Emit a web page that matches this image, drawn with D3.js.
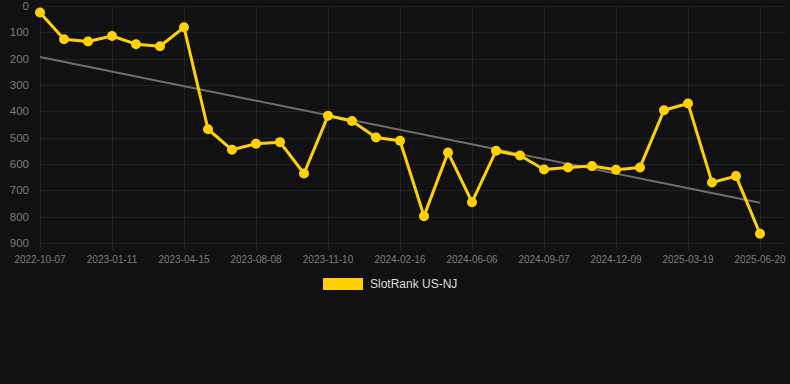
<!DOCTYPE html>
<html><head><meta charset="utf-8">
<script src="https://cdn.jsdelivr.net/npm/d3@7"></script>
<style>body{margin:0;background:#111111;}svg{display:block;}</style>
</head><body>
<svg id="c" width="790" height="384"></svg>
<script>
const dates = ["2022-10-07","2022-11-08","2022-12-10","2023-01-11","2023-02-12","2023-03-14","2023-04-15","2023-05-23","2023-06-30","2023-08-08","2023-09-08","2023-10-09","2023-11-10","2023-12-12","2024-01-14","2024-02-16","2024-03-20","2024-04-23","2024-06-06","2024-07-07","2024-08-07","2024-09-07","2024-10-08","2024-11-08","2024-12-09","2025-01-11","2025-02-14","2025-03-19","2025-04-19","2025-05-20","2025-06-20"];
const ranks = [25,126,135,114,145,153,81,468,546,523,517,636,417,437,499,512,798,556,745,550,568,621,613,608,622,613,396,370,670,646,865];
const yTicks = [0,100,200,300,400,500,600,700,800,900];
const seriesName = "SlotRank US-NJ";

(function(){
const svg = d3.select("#c");
const W = 790, H = 384;
svg.append("rect").attr("width",W).attr("height",H).attr("fill","#111111");
const pL = 40, pR = 760, gridRight = 786, pT = 6, pB = 243;
const x = d3.scalePoint().domain(dates).range([pL,pR]);
const y = d3.scaleLinear().domain([0,900]).range([pT,pB]);

svg.append("g").selectAll("line").data(yTicks).join("line")
  .attr("x1",pL).attr("x2",gridRight).attr("y1",d=>Math.round(y(d))+0.5).attr("y2",d=>Math.round(y(d))+0.5)
  .attr("stroke","#212121").attr("stroke-width",1);
const labelled = dates.filter((d,i)=>i%3===0);
svg.append("g").selectAll("line").data(labelled).join("line")
  .attr("x1",d=>Math.round(x(d))+0.5).attr("x2",d=>Math.round(x(d))+0.5).attr("y1",pT).attr("y2",pB+8)
  .attr("stroke","#212121").attr("stroke-width",1);

svg.append("g").selectAll("text").data(yTicks).join("text")
  .attr("x",29).attr("y",d=>y(d)).attr("dy","0.35em").attr("text-anchor","end")
  .attr("fill","#7a7a7a").attr("font-family","Arial, Liberation Sans, sans-serif").attr("font-size",11.5)
  .text(d=>d);
svg.append("g").selectAll("text").data(labelled).join("text")
  .attr("x",d=>x(d)).attr("y",259).attr("dy","0.35em").attr("text-anchor","middle")
  .attr("fill","#7a7a7a").attr("font-family","Arial, Liberation Sans, sans-serif").attr("font-size",10)
  .text(d=>d);

const n = ranks.length;
const idx = d3.range(n);
const mx = d3.mean(idx), my = d3.mean(ranks);
const slope = d3.sum(idx,i=>(i-mx)*(ranks[i]-my))/d3.sum(idx,i=>(i-mx)*(i-mx));
const icpt = my - slope*mx;
svg.append("line")
  .attr("x1",x(dates[0])).attr("y1",y(icpt))
  .attr("x2",x(dates[n-1])).attr("y2",y(icpt+slope*(n-1)))
  .attr("stroke","#6e6e6e").attr("stroke-width",2);

const line = d3.line().x((d,i)=>x(dates[i])).y(d=>y(d));
svg.append("path").datum(ranks).attr("d",line).attr("fill","none")
  .attr("stroke","#FFD100").attr("stroke-width",3).attr("stroke-linejoin","round");
svg.append("g").selectAll("circle").data(ranks).join("circle")
  .attr("cx",(d,i)=>x(dates[i])).attr("cy",d=>y(d)).attr("r",5)
  .attr("fill","#FFD100");

svg.append("rect").attr("x",323).attr("y",278).attr("width",40).attr("height",12)
  .attr("fill","#FFD100");
svg.append("text").attr("x",370).attr("y",284).attr("dy","0.35em")
  .attr("fill","#dddddd").attr("font-family","Arial, Liberation Sans, sans-serif").attr("font-size",12)
  .text(seriesName);
})();
</script>
</body></html>
